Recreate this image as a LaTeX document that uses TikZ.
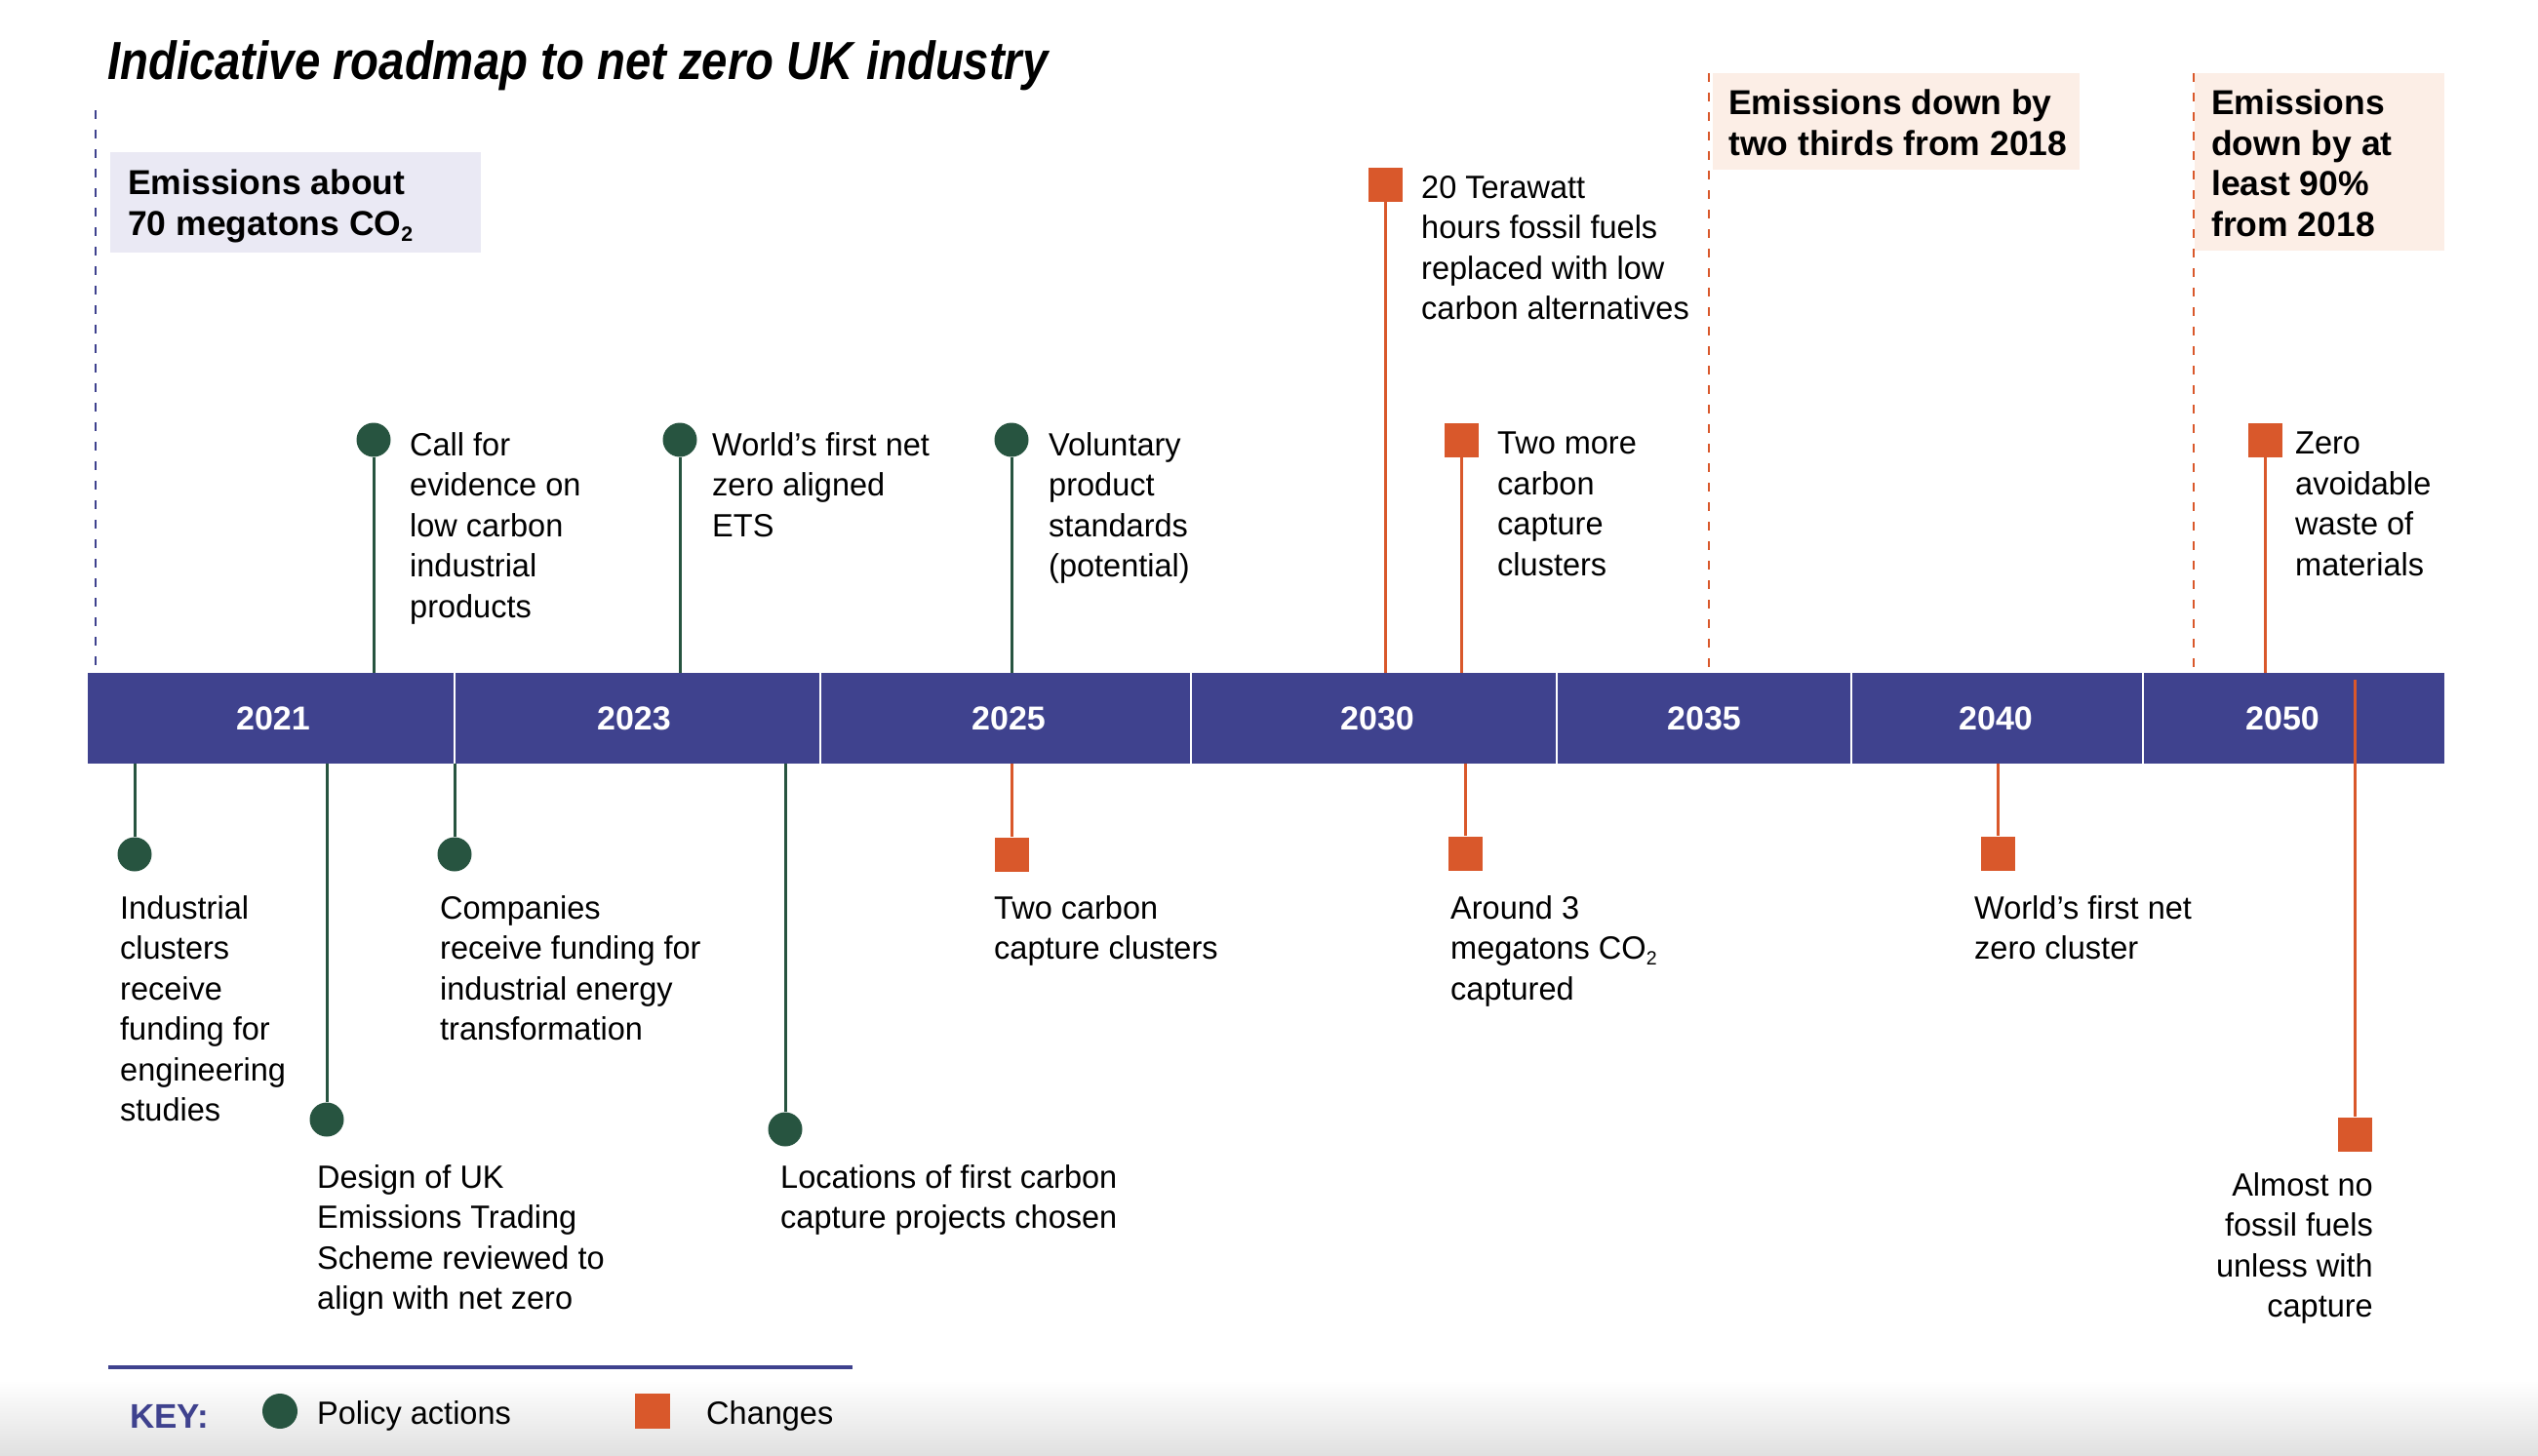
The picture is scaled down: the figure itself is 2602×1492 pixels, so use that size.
\documentclass[tikz,border=0pt]{standalone}
\usepackage{fontspec}
\setmainfont{Liberation Sans}[FakeStretch=0.985]
\newfontfamily\titlefont{Liberation Sans}[FakeStretch=0.86]
\newfontfamily\boldfont{Liberation Sans}[FakeStretch=1.0]
\definecolor{navy}{HTML}{3F428E}
\definecolor{pgreen}{HTML}{275440}
\definecolor{corange}{HTML}{D9582B}
\definecolor{lav}{HTML}{EAE9F4}
\definecolor{peach}{HTML}{FCEEE6}
\newcommand\subtwo{\raisebox{-0.35ex}{\scalebox{0.6}{2}}}
\tikzset{
 body/.style={font=\fontsize{33}{41.5}\selectfont, inner sep=0pt, align=left, anchor=north west},
 boxtxt/.style={font=\boldfont\bfseries\fontsize{35.5}{41.5}\selectfont, inner sep=0pt, align=left, anchor=north west},
 yr/.style={font=\boldfont\bfseries\fontsize{34}{40}\selectfont, text=white, inner sep=0pt},
 pol/.style={circle, fill=pgreen, minimum size=35pt, inner sep=0pt},
 chg/.style={rectangle, fill=corange, minimum size=35pt, inner sep=0pt},
 gline/.style={draw=pgreen, line width=3pt},
 oline/.style={draw=corange, line width=3pt},
 ndash/.style={draw=navy, line width=2.5pt, dash pattern=on 9pt off 11pt},
 odash/.style={draw=corange, line width=2.5pt, dash pattern=on 9pt off 11pt},
}
\begin{document}
\begin{tikzpicture}[x=1pt,y=-1pt]
\useasboundingbox (0,0) rectangle (2602,1492);
\fill[white] (0,0) rectangle (2602,1492);
\shade[top color=white, bottom color=black!12] (0,1415) rectangle (2602,1492);

% title
\node[anchor=base west, inner sep=0pt, font=\titlefont\bfseries\itshape\fontsize{55}{60}\selectfont] (title) at (110,81) {Indicative roadmap to net zero UK industry};

% boxes
\fill[lav] (113,156) rectangle (493,259);
\node[boxtxt] (b1) at (131,174) {Emissions about\\70 megatons CO\subtwo};
\fill[peach] (1756,75) rectangle (2132,174);
\node[boxtxt] (b2) at (1772,92) {Emissions down by\\two thirds from 2018};
\fill[peach] (2250,75) rectangle (2506,257);
\node[boxtxt] (b3) at (2267,92) {Emissions\\down by at\\least 90\%\\from 2018};

% dashed year lines
\coordinate (d1a) at (98,113); \coordinate (d1b) at (98,686);
\draw[ndash] (d1a) -- (d1b);
\coordinate (d2a) at (1752,75); \coordinate (d2b) at (1752,688);
\draw[odash] (d2a) -- (d2b);
\coordinate (d3a) at (2249,75); \coordinate (d3b) at (2249,688);
\draw[odash] (d3a) -- (d3b);

% bar
\fill[navy] (90,690) rectangle (2506,783);
\foreach \sx in {466,841,1221,1596,1898,2197}
  \draw[white, line width=2pt] (\sx,690) -- (\sx,783);
\node[yr] (y1) at (280,737) {2021};
\node[yr] (y2) at (650,737) {2023};
\node[yr] (y3) at (1034,737) {2025};
\node[yr] (y4) at (1412,737) {2030};
\node[yr] (y5) at (1747,737) {2035};
\node[yr] (y6) at (2046,737) {2040};
\node[yr] (y7) at (2340,737) {2050};

% top items
\node[pol] (p1) at (383,451) {};
\coordinate (t1) at (383,690);
\draw[gline] (p1) -- (t1);
\node[body] (l1) at (420,443) {Call for\\evidence on\\low carbon\\industrial\\products};

\node[pol] (p2) at (697,451) {};
\coordinate (t2) at (697,690);
\draw[gline] (p2) -- (t2);
\node[body] (l2) at (730,443) {World’s first net\\zero aligned\\ETS};

\node[pol] (p3) at (1037,451) {};
\coordinate (t3) at (1037,690);
\draw[gline] (p3) -- (t3);
\node[body] (l3) at (1075,443) {Voluntary\\product\\standards\\(potential)};

\node[chg] (c4) at (1420,189) {};
\coordinate (t4) at (1420,690);
\draw[oline] (c4) -- (t4);
\node[body] (l4) at (1457,180) {20 Terawatt\\hours fossil fuels\\replaced with low\\carbon alternatives};

\node[chg] (c5) at (1498,451) {};
\coordinate (t5) at (1498,690);
\draw[oline] (c5) -- (t5);
\node[body] (l5) at (1535,443) {Two more\\carbon\\capture\\clusters};

\node[chg] (c6) at (2322,451) {};
\coordinate (t6) at (2322,690);
\draw[oline] (c6) -- (t6);
\node[body] (l6) at (2353,443) {Zero\\avoidable\\waste of\\materials};

% bottom items
\node[pol] (p7) at (138,876) {};
\coordinate (t7) at (138,783);
\draw[gline] (t7) -- (p7);
\node[body] (l7) at (123,918) {Industrial\\clusters\\receive\\funding for\\engineering\\studies};

\node[pol] (p8) at (335,1148) {};
\coordinate (t8) at (335,783);
\draw[gline] (t8) -- (p8);
\node[body] (l8) at (325,1194) {Design of UK\\Emissions Trading\\Scheme reviewed to\\align with net zero};

\node[pol] (p9) at (466,876) {};
\coordinate (t9) at (466,783);
\draw[gline] (t9) -- (p9);
\node[body] (l9) at (451,918) {Companies\\receive funding for\\industrial energy\\transformation};

\node[pol] (p10) at (805,1158) {};
\coordinate (t10) at (805,783);
\draw[gline] (t10) -- (p10);
\node[body] (l10) at (800,1194) {Locations of first carbon\\capture projects chosen};

\node[chg] (c11) at (1037,876) {};
\coordinate (t11) at (1037,783);
\draw[oline] (t11) -- (c11);
\node[body] (l11) at (1019,918) {Two carbon\\capture clusters};

\node[chg] (c12) at (1502,875) {};
\coordinate (t12) at (1502,783);
\draw[oline] (t12) -- (c12);
\node[body] (l12) at (1487,918) {Around 3\\megatons CO\subtwo\\captured};

\node[chg] (c13) at (2048,875) {};
\coordinate (t13) at (2048,783);
\draw[oline] (t13) -- (c13);
\node[body] (l13) at (2024,918) {World’s first net\\zero cluster};

\node[chg] (c14) at (2414,1163) {};
\coordinate (t14) at (2414,697);
\draw[oline] (t14) -- (c14);
\node[body, anchor=north east, align=right] (l14) at (2433,1202) {Almost no\\fossil fuels\\unless with\\capture};

% key
\coordinate (k1) at (111,1402); \coordinate (k2) at (874,1402);
\draw[navy, line width=4pt] (k1) -- (k2);
\node[anchor=west, inner sep=0pt, text=navy, font=\boldfont\bfseries\fontsize{35}{40}\selectfont] (key) at (133,1452) {KEY:};
\node[pol, minimum size=36pt] (kp) at (287,1447) {};
\node[anchor=west, inner sep=0pt, font=\fontsize{33}{40}\selectfont] (kpt) at (325,1452) {Policy actions};
\node[chg, minimum size=36pt] (kc) at (669,1447) {};
\node[anchor=west, inner sep=0pt, font=\fontsize{33}{40}\selectfont] (kct) at (724,1452) {Changes};
\end{tikzpicture}
\end{document}
